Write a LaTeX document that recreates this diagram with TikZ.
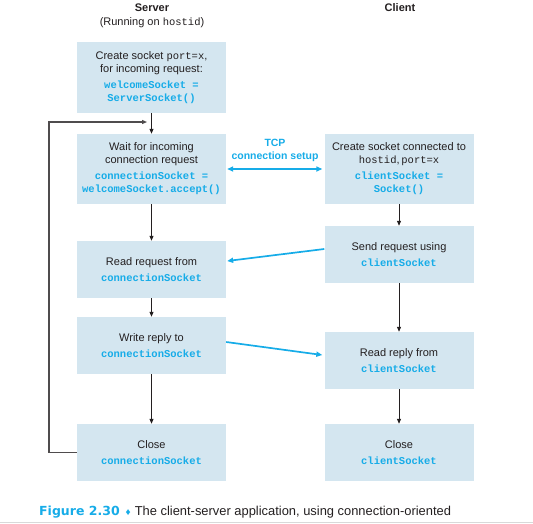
\documentclass[tikz,border=0pt]{standalone}
\usepackage{fontspec}
\setsansfont{Liberation Sans}
\setmonofont{Liberation Mono}
\newfontfamily\figfont{DejaVu Sans}
\usetikzlibrary{arrows.meta}
\definecolor{boxblue}{HTML}{D4E6F0}
\definecolor{codecyan}{HTML}{16ACE8}
\definecolor{ink}{HTML}{231F20}
\newcommand{\cod}[1]{{\color{codecyan}\ttfamily\bfseries\fontsize{10.5}{13}\selectfont #1}}
\newcommand{\mon}[1]{{\ttfamily\fontsize{10.5}{13}\selectfont #1}}
\begin{document}
\begin{tikzpicture}[x=1pt,y=-1pt,
  box/.style={fill=boxblue, minimum width=149pt, inner sep=0pt, align=center,
    font=\sffamily\fontsize{11}{13}\selectfont, text=ink},
  hdr/.style={font=\sffamily\fontsize{11}{13}\selectfont, text=ink},
  flow/.style={draw=ink, line width=0.8pt, -{Triangle[length=5pt,width=4pt]}},
  msg/.style={draw=codecyan, line width=1.7pt, -{Triangle[length=6pt,width=5pt]}},
  loopline/.style={draw=ink!80, line width=1.1pt, -{Triangle[length=5pt,width=4pt]}}]
\useasboundingbox (0,0) rectangle (533,523);
% headers
\node[hdr, font=\sffamily\bfseries\fontsize{11}{13}\selectfont] (srv) at (152,8) {Server};
\node[hdr] (run) at (152,23) {(Running on \mon{hostid})};
\node[hdr, font=\sffamily\bfseries\fontsize{11}{13}\selectfont] (cli) at (400,8) {Client};
% server boxes
\node[box, minimum height=71pt] (s1) at (151.5,77.5) {Create socket \mon{port=x},\\ for incoming request:\\[3pt] \cod{welcomeSocket =}\\ \cod{ServerSocket()}};
\node[box, minimum height=70pt] (s2) at (151.5,169) {Wait for incoming\\ connection request\\[3pt] \cod{connectionSocket =}\\ \cod{welcomeSocket.accept()}};
\node[box, minimum height=57pt] (s3) at (151.5,269.5) {Read request from\\[3pt] \cod{connectionSocket}};
\node[box, minimum height=57pt] (s4) at (151.5,345.5) {Write reply to\\[3pt] \cod{connectionSocket}};
\node[box, minimum height=57pt] (s5) at (151.5,452.5) {Close\\[3pt] \cod{connectionSocket}};
% client boxes
\node[box, minimum height=70pt] (c1) at (399,169) {Create socket connected to\\ \mon{hostid},\,\mon{port=x}\\[3pt] \cod{clientSocket =}\\ \cod{Socket()}};
\node[box, minimum height=57pt] (c2) at (399,254.5) {Send request using\\[3pt] \cod{clientSocket}};
\node[box, minimum height=57pt] (c3) at (399,360.5) {Read reply from\\[3pt] \cod{clientSocket}};
\node[box, minimum height=57pt] (c4) at (399,452.5) {Close\\[3pt] \cod{clientSocket}};
% vertical flow
\draw[flow] (s1) -- (s2);
\draw[flow] (s2) -- (s3);
\draw[flow] (s3) -- (s4);
\draw[flow] (s4) -- (s5);
\draw[flow] (c1) -- (c2);
\draw[flow] (c2) -- (c3);
\draw[flow] (c3) -- (c4);
% loop back
\coordinate (lpt) at (49,122);
\coordinate (lpe) at (147,122);
\draw[loopline] (s5.west) -| (lpt) -- (lpe);
% messages
\node[font=\sffamily\bfseries\fontsize{10.5}{13}\selectfont, text=codecyan, align=center] (tcp) at (275,150.5) {TCP\\ connection setup};
\draw[msg, {Triangle[length=6pt,width=5pt]}-{Triangle[length=6pt,width=5pt]}] ([xshift=1pt]s2.east) -- ([xshift=-2pt]c1.west);
\draw[msg] ([yshift=5.5pt]c2.west) -- ([yshift=8.5pt,xshift=1pt]s3.east);
\draw[msg] ([yshift=3.5pt]s4.east) -- ([yshift=5.5pt,xshift=-2pt]c3.west);
% caption
\node[anchor=west, font=\sffamily\fontsize{12.9}{15}\selectfont, text=ink, inner sep=0pt] (cap) at (39,512) {\textcolor{codecyan}{\figfont\bfseries\fontsize{12.5}{15}\selectfont Figure 2.30}\hspace{6pt}\textcolor{codecyan}{\fontsize{10}{15}\selectfont ♦}\hspace{4pt}The client-server application, using connection-oriented};
\coordinate (gl) at (0,522);
\coordinate (gr) at (533,522);
\draw[black!15, line width=0.8pt] (gl) -- (gr);
\end{tikzpicture}
\end{document}
